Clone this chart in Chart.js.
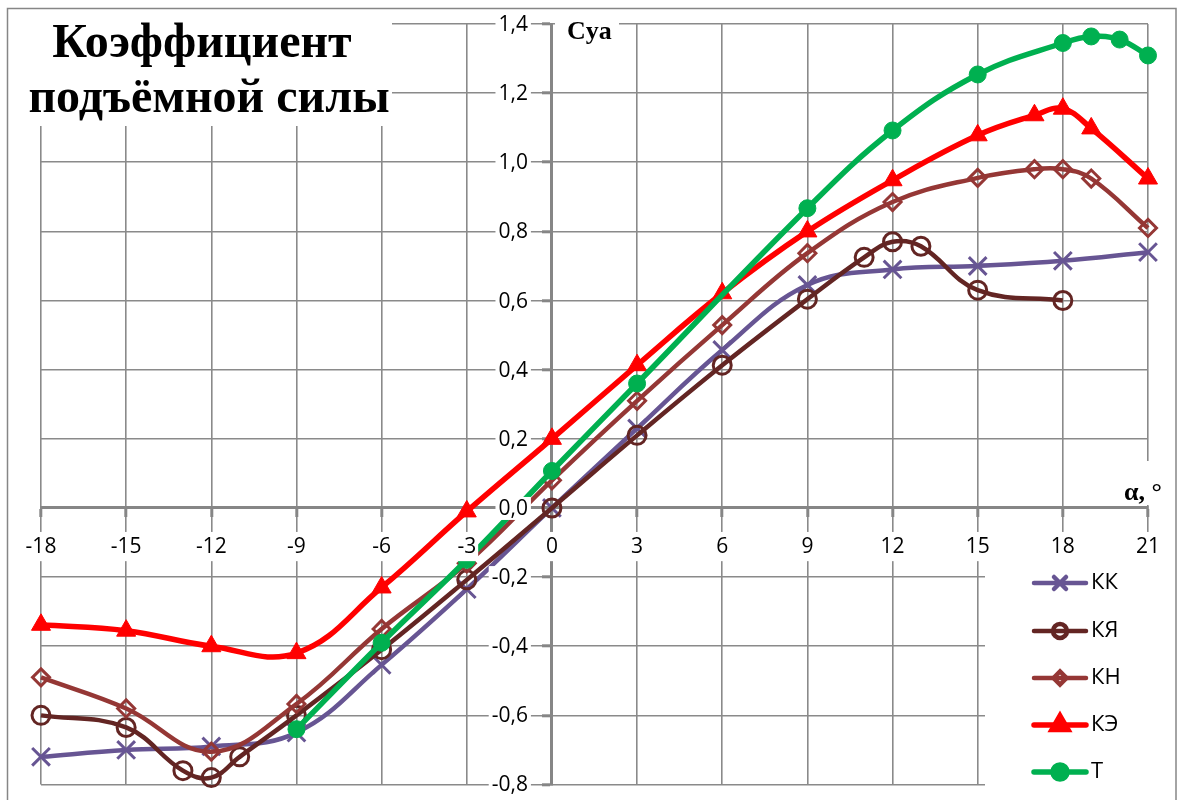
<!DOCTYPE html>
<html>
<head>
<meta charset="utf-8">
<script src="https://cdn.jsdelivr.net/npm/chart.js@4.4.0/dist/chart.umd.min.js"></script>
<style>
html, body { margin: 0; padding: 0; background: #fff; }
</style>
</head>
<body>
<canvas id="myChart" width="1181" height="800"></canvas>
<script>
// angle of attack (deg) and Cya for each series
const kkX  = [-18, -15, -12, -9, -6, -3, 0, 3, 6, 9, 12, 15, 18, 21];
const kkY  = [-0.72, -0.70, -0.69, -0.65, -0.454, -0.235, 0, 0.23, 0.457, 0.645, 0.69, 0.70, 0.715, 0.74];
const kyaX = [-18, -15, -13, -12, -11, -9, -6, -3, 0, 3, 6, 9, 11, 12, 13, 15, 18];
const kyaY = [-0.60, -0.635, -0.76, -0.78, -0.72, -0.60, -0.41, -0.208, 0, 0.21, 0.413, 0.604, 0.725, 0.77, 0.757, 0.63, 0.60];
const knX  = [-18, -15, -12, -9, -6, -3, 0, 3, 6, 9, 12, 15, 17, 18, 19, 21];
const knY  = [-0.49, -0.58, -0.705, -0.567, -0.35, -0.16, 0.08, 0.31, 0.529, 0.737, 0.885, 0.955, 0.98, 0.98, 0.953, 0.81];
const keX  = [-18, -15, -12, -9, -6, -3, 0, 3, 6, 9, 12, 15, 17, 18, 19, 21];
const keY  = [-0.338, -0.355, -0.40, -0.42, -0.23, -0.01, 0.2, 0.413, 0.621, 0.80, 0.948, 1.078, 1.136, 1.155, 1.098, 0.953];
const tX   = [-9, -6, -3, 0, 3, 9, 12, 15, 18, 19, 20, 21];
const tY   = [-0.64, -0.39, -0.15, 0.107, 0.36, 0.867, 1.092, 1.254, 1.345, 1.364, 1.355, 1.309];

const seriesNames = ['КК', 'КЯ', 'КН', 'КЭ', 'Т'];
const xTicks = { min: -18, max: 21, step: 3 };
const yTicks = { min: -0.8, max: 1.4, step: 0.2 };

const toPoints = (xs, ys) => xs.map((x, i) => ({ x: x, y: ys[i] }));
const fmtY = v => (Math.abs(v) < 1e-9 ? 0 : v).toFixed(1).replace('.', ',');

const gridColor = '#8a8a8a';
const axisColor = '#868686';
const tickFont = { family: 'Open Sans', size: 21 };

const datasets = [
    {
        label: seriesNames[0], data: toPoints(kkX, kkY), order: 5,
        borderColor: '#675593', borderWidth: 4.5,
        pointStyle: 'crossRot', pointRadius: 12.5, pointBorderWidth: 3,
        pointBorderColor: '#675593', pointBackgroundColor: '#675593'
    },
    {
        label: seriesNames[1], data: toPoints(kyaX, kyaY), order: 4,
        borderColor: '#632523', borderWidth: 4.5,
        pointStyle: 'circle', pointRadius: 9, pointBorderWidth: 3,
        pointBorderColor: '#632523', pointBackgroundColor: 'rgba(0,0,0,0)'
    },
    {
        label: seriesNames[2], data: toPoints(knX, knY), order: 3,
        borderColor: '#953735', borderWidth: 4.5,
        pointStyle: 'rectRot', pointRadius: 8.5, pointBorderWidth: 3,
        pointBorderColor: '#953735', pointBackgroundColor: 'rgba(0,0,0,0)'
    },
    {
        label: seriesNames[3], data: toPoints(keX, keY), order: 2,
        borderColor: '#ff0000', borderWidth: 5.5,
        pointStyle: 'triangle', pointRadius: 11, pointBorderWidth: 1,
        pointBorderColor: '#ff0000', pointBackgroundColor: '#ff0000'
    },
    {
        label: seriesNames[4], data: toPoints(tX, tY), order: 1,
        borderColor: '#00b050', borderWidth: 5.5,
        pointStyle: 'circle', pointRadius: 8.5, pointBorderWidth: 1,
        pointBorderColor: '#00b050', pointBackgroundColor: '#00b050'
    }
];
datasets.forEach(d => { d.tension = 0.4; d.clip = false; d.fill = false; });

// y tick labels sit left of the axis with a gap, on a white backdrop over the lines
const yLabels = {
    id: 'yLabels',
    afterDatasetsDraw(chart) {
        const ctx = chart.ctx;
        const yScale = chart.scales.y;
        const axisX = chart.scales.x.getPixelForValue(0);
        ctx.save();
        ctx.font = tickFont.size + 'px "' + tickFont.family + '"';
        ctx.textAlign = 'right';
        ctx.textBaseline = 'middle';
        yScale.ticks.forEach(t => {
            const py = yScale.getPixelForValue(t.value);
            const txt = fmtY(t.value);
            const w = ctx.measureText(txt).width;
            const right = axisX - 24;
            ctx.fillStyle = '#fff';
            ctx.fillRect(right - w - 3, py - 11, w + 6, 23);
            ctx.fillStyle = '#000';
            ctx.fillText(txt, right, py + 1);
        });
        ctx.restore();
    }
};

// title, axis names, legend and frame
const decorations = {
    id: 'decorations',
    afterDraw(chart) {
        const ctx = chart.ctx;
        ctx.save();

        // title
        ctx.fillStyle = '#fff';
        ctx.fillRect(26, 10, 366, 116);
        ctx.fillStyle = '#000';
        ctx.font = 'bold 48px "Liberation Serif"';
        ctx.textAlign = 'center';
        ctx.textBaseline = 'alphabetic';
        ctx.fillText('Коэффициент', 202, 57);
        ctx.fillText('подъёмной силы', 209, 112);

        // Cya
        ctx.fillStyle = '#fff';
        ctx.fillRect(555, 14, 64, 34);
        ctx.fillStyle = '#000';
        ctx.font = 'bold 26px "Liberation Serif"';
        ctx.textAlign = 'left';
        ctx.fillText('Cya', 567, 39);

        // alpha
        ctx.fillStyle = '#fff';
        ctx.fillRect(1118, 461, 56, 44);
        ctx.fillStyle = '#000';
        ctx.fillText('α, °', 1124, 500);

        // legend
        ctx.fillStyle = '#fff';
        ctx.fillRect(985, 557, 189, 243);
        const rowY = [583, 631, 678, 725, 772];
        const legendRadius = [8.5, 7, 6.5, 9, 7];
        chart.data.datasets.forEach((d, i) => {
            const y = rowY[i];
            ctx.strokeStyle = d.borderColor;
            ctx.lineWidth = d.borderWidth;
            ctx.lineCap = 'round';
            ctx.beginPath();
            ctx.moveTo(1034, y);
            ctx.lineTo(1086, y);
            ctx.stroke();
            ctx.fillStyle = d.pointBackgroundColor;
            Chart.helpers.drawPoint(ctx, {
                pointStyle: d.pointStyle,
                radius: legendRadius[i],
                rotation: 0,
                borderWidth: d.pointBorderWidth
            }, 1060, y);
            ctx.fillStyle = '#000';
            ctx.font = '22px "Open Sans"';
            ctx.textAlign = 'left';
            ctx.textBaseline = 'middle';
            ctx.fillText(d.label, 1091, y);
        });

        // outer frame
        ctx.strokeStyle = axisColor;
        ctx.lineWidth = 1.5;
        ctx.strokeRect(7.5, 8.5, 1168.5, 820);
        ctx.restore();
    }
};

const config = {
    type: 'line',
    data: { datasets: datasets },
    options: {
        responsive: false,
        animation: false,
        devicePixelRatio: 1,
        layout: { padding: { left: 41, right: 33, top: 24, bottom: 15 } },
        plugins: { legend: { display: false }, tooltip: { enabled: false } },
        scales: {
            x: {
                type: 'linear',
                position: { y: 0 },
                min: xTicks.min, max: xTicks.max,
                ticks: {
                    stepSize: xTicks.step, font: tickFont, color: '#000',
                    padding: 18, z: 1,
                    showLabelBackdrop: true, backdropColor: '#fff', backdropPadding: 2
                },
                grid: { color: gridColor, lineWidth: 1.6, tickLength: 8, tickWidth: 3, tickColor: axisColor },
                border: { color: axisColor, width: 3 }
            },
            y: {
                type: 'linear',
                position: { x: 0 },
                min: yTicks.min, max: yTicks.max,
                ticks: { stepSize: yTicks.step, display: false, padding: 0 },
                grid: { color: gridColor, lineWidth: 1.6, tickLength: 8, tickWidth: 3, tickColor: axisColor },
                border: { color: axisColor, width: 3 }
            }
        }
    },
    plugins: [yLabels, decorations]
};

let myChart = new Chart(document.getElementById('myChart'), config);
</script>
</body>
</html>
